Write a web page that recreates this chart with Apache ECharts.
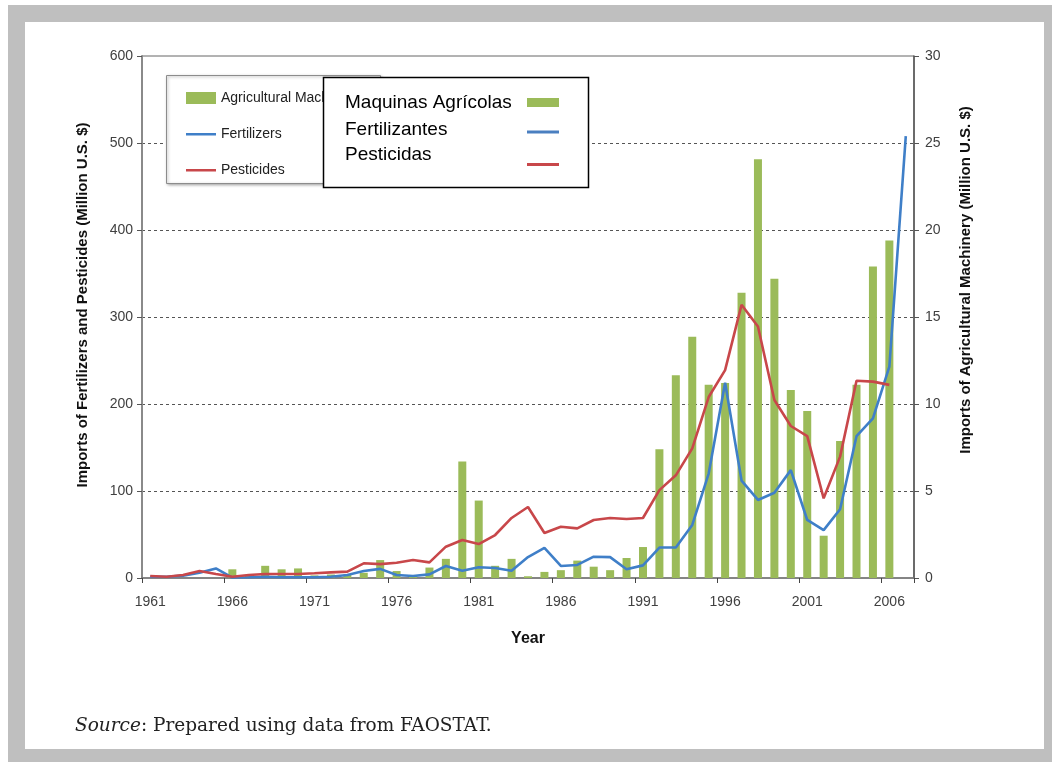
<!DOCTYPE html>
<html>
<head>
<meta charset="utf-8">
<script src="https://cdn.jsdelivr.net/npm/echarts@6/dist/echarts.min.js"></script>
<style>
  html, body { margin: 0; padding: 0; background: #ffffff; }
  #frame { position: absolute; left: 8px; top: 5px; width: 1044px; height: 757px; background: #bfbfbf; }
  #inner { position: absolute; left: 25px; top: 22px; width: 1019px; height: 727px; background: #ffffff; }
  #chart { position: absolute; left: 0; top: 0; width: 1052px; height: 762px; }
  #source { position: absolute; left: 75px; top: 714px; font-family: "DejaVu Serif", "Liberation Serif", serif; font-size: 18.5px; color: #222; white-space: nowrap; }
</style>
</head>
<body>
<div id="frame"></div>
<div id="inner"></div>
<div id="chart"></div>
<div id="source"><i>Source</i>: Prepared using data from FAOSTAT.</div>
<script>
// Years 1961-2007
var years = [];
for (var y = 1961; y <= 2007; y++) years.push(String(y));

// Agricultural machinery imports (right axis, million US$)
var machinery = [
  0, 0, 0, 0, 0,
  0.5, 0.15, 0.7, 0.5, 0.55,
  0.15, 0.2, 0.2, 0.3, 1.03,
  0.4, 0.1, 0.6, 1.1, 6.7,
  4.45, 0.7, 1.1, 0.1, 0.35,
  0.45, 1.0, 0.65, 0.45, 1.15,
  1.78, 7.4, 11.65, 13.87, 11.1,
  11.2, 16.4, 24.06, 17.2, 10.8,
  9.6, 2.43, 7.87, 11.1, 17.9,
  19.4, null
];

// Fertilizer imports (left axis, million US$)
var fertilizers = [
  1.5, 1.5, 2.7, 6, 11,
  0.5, 0.8, 1.5, 0.8, 0.8,
  0.8, 1.5, 3.4, 8, 10.5,
  3.4, 2.3, 4.2, 13.8, 8.4,
  12.3, 11.5, 8.4, 24, 34.5,
  13.8, 15, 24.5, 24, 10,
  14.5, 35, 35, 61, 120,
  224.5, 112, 89.7, 98, 124,
  66.7, 55, 79, 163, 183.5,
  243, 508
];

// Pesticide imports (left axis, million US$)
var pesticides = [
  2.3, 1.5, 3.4, 8, 4.6,
  1.5, 3.4, 4.6, 4.6, 4.6,
  5.4, 6.5, 7.3, 16.9, 16,
  17.6, 20.7, 18, 36, 43.7,
  39, 49.4, 69, 81.6, 51.7,
  59, 57, 66.7, 69, 67.8,
  69, 101, 118, 149, 208,
  239, 314, 289, 204.6, 174.7,
  163, 91.6, 139.5, 226.8, 225.7,
  222, null
];

var seriesNames = ['Agricultural Machinery', 'Fertilizers', 'Pesticides'];
var overlayNames = ['Maquinas Agrícolas', 'Fertilizantes', 'Pesticidas'];
var leftTitle = 'Imports of Fertilizers and Pesticides (Million U.S. $)';
var rightTitle = 'Imports of Agricultural Machinery (Million U.S. $)';
var xTitle = 'Year';

var GREEN = '#9bbb59', BLUE = '#3f7fc8', RED = '#c8474a';
var FONT = '"Liberation Sans", Arial, sans-serif';
// thin horizontal line icon (tiny corner marks keep a 30x12 bounding box)
var LINE_ICON = 'path://M0,0L0.01,0L0,0.01Z M0,5L30,5L30,7.6L0,7.6Z M30,12L29.99,12L30,11.99Z';

var chart = echarts.init(document.getElementById('chart'), null, { renderer: 'canvas' });

var option = {
  backgroundColor: 'transparent',
  animation: false,
  grid: { left: 142, right: 138, top: 56, bottom: 184, show: true, borderColor: '#666', borderWidth: 1, backgroundColor: 'transparent' },
  legend: {
    left: 186, top: 91, orient: 'vertical', padding: 0,
    itemWidth: 30, itemHeight: 12, itemGap: 22,
    textStyle: { fontFamily: FONT, fontSize: 14, color: '#222', lineHeight: 12 },
    data: [
      { name: seriesNames[0], icon: 'rect' },
      { name: seriesNames[1], icon: LINE_ICON },
      { name: seriesNames[2], icon: LINE_ICON }
    ],
    z: 4
  },
  xAxis: {
    type: 'category', data: years,
    axisLine: { lineStyle: { color: '#777', width: 1.5 } },
    axisTick: { show: true, length: 5, lineStyle: { color: '#444' } },
    axisLabel: { interval: 4, margin: 17, fontFamily: FONT, fontSize: 14, color: '#404040' },
    name: xTitle, nameLocation: 'middle', nameGap: 53,
    nameTextStyle: { fontFamily: FONT, fontSize: 16, fontWeight: 'bold', color: '#111' }
  },
  yAxis: [
    {
      type: 'value', min: 0, max: 600, interval: 100, position: 'left',
      axisLine: { show: true, lineStyle: { color: '#8a8a8a', width: 2 } },
      axisTick: { show: true, length: 5, lineStyle: { color: '#555' } },
      axisLabel: { margin: 9, fontFamily: FONT, fontSize: 14, color: '#404040' },
      splitLine: { show: true, showMinLine: false, showMaxLine: false, lineStyle: { color: '#555', type: [3, 3], width: 1 } }
    },
    {
      type: 'value', min: 0, max: 30, interval: 5, position: 'right',
      axisLine: { show: true, lineStyle: { color: '#555', width: 1.5 } },
      axisTick: { show: true, length: 5, lineStyle: { color: '#555' } },
      axisLabel: { margin: 11, fontFamily: FONT, fontSize: 14, color: '#404040' },
      splitLine: { show: false }
    }
  ],
  series: [
    { name: seriesNames[0], type: 'bar', yAxisIndex: 1, data: machinery, barWidth: 8, itemStyle: { color: GREEN }, z: 2 },
    { name: seriesNames[1], type: 'line', yAxisIndex: 0, data: fertilizers, symbol: 'none', lineStyle: { color: BLUE, width: 2.6 }, itemStyle: { color: BLUE }, z: 3 },
    { name: seriesNames[2], type: 'line', yAxisIndex: 0, data: pesticides, symbol: 'none', lineStyle: { color: RED, width: 2.6 }, itemStyle: { color: RED }, z: 3 }
  ],
  graphic: [
    // back (original) legend box
    { type: 'rect', z: 3, shape: { x: 166.5, y: 75.5, width: 214, height: 108 },
      style: { fill: '#fff', stroke: '#8c8c8c', lineWidth: 1, shadowBlur: 3, shadowOffsetX: 1, shadowOffsetY: 1, shadowColor: 'rgba(0,0,0,0.35)' } },
    // overlay legend box
    { type: 'group', z: 10, children: [
      { type: 'rect', z: 10, shape: { x: 323.5, y: 77.5, width: 265, height: 110 }, style: { fill: '#fff', stroke: '#000', lineWidth: 1.5 } },
      { type: 'text', z: 11, x: 345, y: 103, style: { text: overlayNames[0], fontFamily: FONT, fontSize: 19, fill: '#000', verticalAlign: 'middle' } },
      { type: 'text', z: 11, x: 345, y: 130, style: { text: overlayNames[1], fontFamily: FONT, fontSize: 19, fill: '#000', verticalAlign: 'middle' } },
      { type: 'text', z: 11, x: 345, y: 155, style: { text: overlayNames[2], fontFamily: FONT, fontSize: 19, fill: '#000', verticalAlign: 'middle' } },
      { type: 'rect', z: 11, shape: { x: 527, y: 98, width: 32, height: 9 }, style: { fill: GREEN } },
      { type: 'rect', z: 11, shape: { x: 527, y: 130.5, width: 32, height: 3 }, style: { fill: '#4a7fc0' } },
      { type: 'rect', z: 11, shape: { x: 527, y: 163, width: 32, height: 3 }, style: { fill: RED } }
    ] },
    // axis titles
    { type: 'text', z: 5, x: 83, y: 305, rotation: Math.PI / 2,
      style: { text: leftTitle, fontFamily: FONT, fontSize: 15, fontWeight: 'bold', fill: '#111', align: 'center', verticalAlign: 'middle' } },
    { type: 'text', z: 5, x: 966, y: 280, rotation: Math.PI / 2,
      style: { text: rightTitle, fontFamily: FONT, fontSize: 15, fontWeight: 'bold', fill: '#111', align: 'center', verticalAlign: 'middle' } }
  ]
};
chart.setOption(option);
</script>
</body>
</html>
